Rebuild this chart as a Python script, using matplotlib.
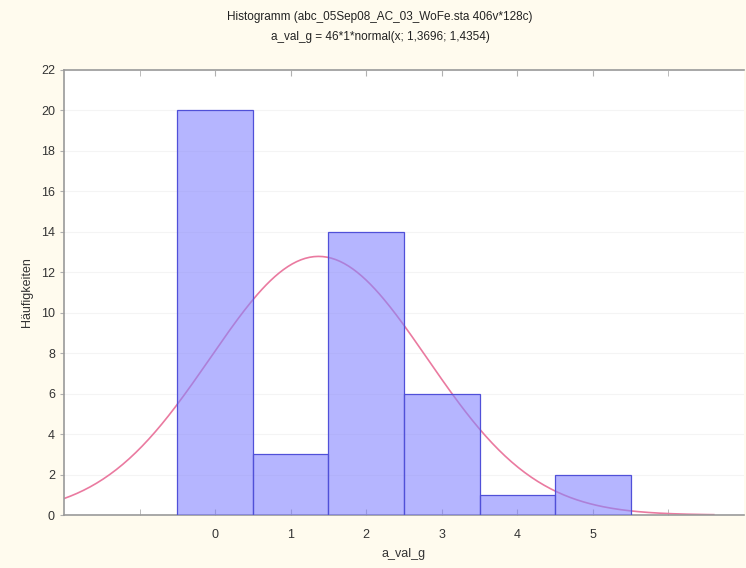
import numpy as np
import matplotlib.pyplot as plt

plt.rcParams['font.family'] = ['Liberation Sans', 'DejaVu Sans']

# Daten aus dem Histogramm
klassen = [0, 1, 2, 3, 4, 5]
haeufigkeiten = [20, 3, 14, 6, 1, 2]
n_gesamt = 46
mittel = 1.3696
stdabw = 1.4354

x_ticks = [0, 1, 2, 3, 4, 5]
y_ticks = list(range(0, 23, 2))

def normal_kurve(x):
    return n_gesamt * 1 * np.exp(-0.5 * ((x - mittel) / stdabw) ** 2) / (stdabw * np.sqrt(2 * np.pi))

fig = plt.figure(figsize=(7.46, 5.68), dpi=100)
fig.patch.set_facecolor('#fffbee')
ax = fig.add_axes([64 / 746, 53 / 568, 680 / 746, 445 / 568])
ax.set_facecolor('white')

xs = np.linspace(-2, 6.6, 300)
ax.plot(xs, normal_kurve(xs), color='#ea7aa0', lw=1.2, zorder=2)

ax.bar(klassen, haeufigkeiten, width=1.0, color=(0.52, 0.52, 1.0, 0.6),
       edgecolor='#5050d8', linewidth=0.9, zorder=3)

ax.set_xlim(-2, 7)
ax.set_ylim(0, 22)
ax.set_xticks(x_ticks)
ax.set_xticks([-1, 6], minor=True)
ax.set_yticks(y_ticks)
ax.grid(axis='y', color='#f4f4f4', lw=0.8, zorder=0)

for s in ['top', 'left', 'bottom']:
    ax.spines[s].set_color('#9a9a9a')
    ax.spines[s].set_linewidth(1.2)
ax.spines['right'].set_visible(False)

ax.tick_params(axis='x', which='both', direction='in', top=True, length=4,
               color='#b0b0b0', labelsize=9, labelcolor='#333333', pad=10)
ax.tick_params(axis='y', direction='out', length=3, color='#b0b0b0',
               labelsize=9, labelcolor='#333333')

fig.text(380 / 746, 1 - 17 / 568, 'Histogramm (abc_05Sep08_AC_03_WoFe.sta 406v*128c)',
         ha='center', va='center', fontsize=8.5, color='#222222')
fig.text(380 / 746, 1 - 37 / 568, 'a_val_g = 46*1*normal(x; 1,3696; 1,4354)',
         ha='center', va='center', fontsize=8.5, color='#222222')
ax.set_xlabel('a_val_g', fontsize=9, labelpad=5, color='#333333')
ax.set_ylabel('Häufigkeiten', fontsize=9, labelpad=6, color='#333333')

fig.savefig('out.png', dpi=100, facecolor=fig.get_facecolor())
